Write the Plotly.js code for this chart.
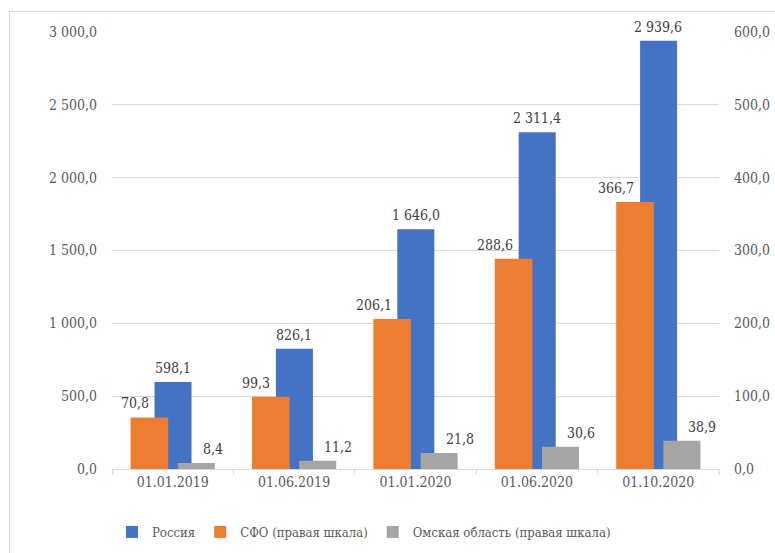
<!DOCTYPE html>
<html>
<head>
<meta charset="utf-8">
<script src="https://cdn.plot.ly/plotly-3.0.1.min.js"></script>
<style>
  html, body { margin: 0; padding: 0; background: #fff; overflow: hidden; }
  #wrap { position: relative; width: 775px; height: 553px; }
  #chart { position: absolute; left: 0; top: 0; width: 775px; height: 553px; }
  #frame { position: absolute; left: 9px; top: 11px; width: 800px; height: 600px; border: 1px solid #d9d9d9; pointer-events: none; }
</style>
</head>
<body>
<div id="wrap"><div id="chart"></div><div id="frame"></div></div>
<script>
const categories = ["01.01.2019", "01.06.2019", "01.01.2020", "01.06.2020", "01.10.2020"];
const russia = [598.1, 826.1, 1646.0, 2311.4, 2939.6];
const sfo = [70.8, 99.3, 206.1, 288.6, 366.7];
const omsk = [8.4, 11.2, 21.8, 30.6, 38.9];
const seriesNames = ["Россия", "СФО (правая шкала)", "Омская область (правая шкала)"];
const colors = ["#4472C4", "#ED7D31", "#A5A5A5"];

function fmt(v) {
  const parts = v.toFixed(1).split(".");
  const intPart = parts[0].replace(/\B(?=(\d{3})+(?!\d))/g, " ");
  return intPart + "," + parts[1];
}

const fontFam = "DejaVu Serif Condensed, DejaVu Serif, serif";
const textColor = "#595959";
const labelColor = "#404040";

const traces = [
  { type: "bar", name: seriesNames[0], x: categories, y: russia, yaxis: "y",
    marker: { color: colors[0] }, width: 0.305, offset: -0.15, hoverinfo: "y" },
  { type: "bar", name: seriesNames[1], x: categories, y: sfo, yaxis: "y2",
    marker: { color: colors[1] }, width: 0.31, offset: -0.347, hoverinfo: "y" },
  { type: "bar", name: seriesNames[2], x: categories, y: omsk, yaxis: "y2",
    marker: { color: colors[2] }, width: 0.305, offset: 0.042, hoverinfo: "y" }
];

const annFont = { family: fontFam, size: 14, color: labelColor };
const annotations = [];
categories.forEach((c, i) => {
  annotations.push({ x: c, y: russia[i], xref: "x", yref: "y", text: fmt(russia[i]),
    showarrow: false, xanchor: "center", yanchor: "bottom", yshift: 4, font: annFont });
  annotations.push({ x: c, y: sfo[i], xref: "x", yref: "y2", text: fmt(sfo[i]),
    showarrow: false, xanchor: "right", yanchor: "bottom", xshift: -22, yshift: 4, font: annFont });
  annotations.push({ x: c, y: omsk[i], xref: "x", yref: "y2", text: fmt(omsk[i]),
    showarrow: false, xanchor: "left", yanchor: "bottom", xshift: 28, yshift: 4, font: annFont });
});

const tickFont = { family: fontFam, size: 14, color: textColor };

const layout = {
  width: 775, height: 553,
  margin: { l: 112, r: 56, t: 32, b: 84 },
  paper_bgcolor: "#ffffff", plot_bgcolor: "#ffffff",
  barmode: "overlay",
  separators: ", ",
  font: { family: fontFam, size: 14, color: textColor },
  showlegend: true,
  legend: { orientation: "h", x: 0.0, xanchor: "left", yref: "container", y: 0.038, yanchor: "middle",
    font: { family: fontFam, size: 13, color: textColor }, itemwidth: 30, traceorder: "normal" },
  xaxis: {
    type: "category", showgrid: false, showline: true, linecolor: "#d9d9d9", linewidth: 1,
    ticks: "outside", tickson: "boundaries", ticklen: 5, tickcolor: "#d9d9d9",
    tickfont: tickFont, fixedrange: true
  },
  yaxis: {
    range: [0, 3000], tickvals: [0, 500, 1000, 1500, 2000, 2500, 3000], tickformat: ",.1f",
    showgrid: true, gridcolor: "#d9d9d9", zeroline: false, showline: false, ticks: "",
    ticklabelstandoff: 14, tickfont: tickFont, fixedrange: true
  },
  yaxis2: {
    overlaying: "y", side: "right", range: [0, 600], tickvals: [0, 100, 200, 300, 400, 500, 600],
    tickformat: ",.1f", showgrid: false, zeroline: false, showline: false, ticks: "",
    ticklabelstandoff: 14, tickfont: tickFont, fixedrange: true
  },
  annotations: annotations
};

Plotly.newPlot("chart", traces, layout, { displayModeBar: false, staticPlot: true });
</script>
</body>
</html>
